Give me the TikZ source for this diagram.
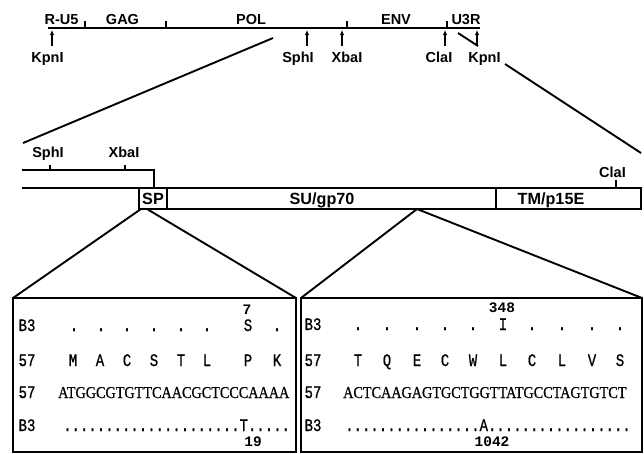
\documentclass[tikz,border=0pt]{standalone}
\usepackage{fontspec}
\setmainfont{Liberation Serif}
\setsansfont{Liberation Sans}
\setmonofont{Liberation Mono}
\newfontfamily\seqfont[FakeBold=0.6]{Liberation Serif}
\newfontfamily\resfont[FakeBold=0.9]{Liberation Mono}
\usetikzlibrary{arrows.meta}

% vertically stretched text for the alignment rows
\newcommand{\tallmono}[1]{\scalebox{1}[1.25]{#1}}
\newcommand{\tallseq}[1]{\scalebox{1}[1.17]{#1}}

\begin{document}
\begin{tikzpicture}[x=1pt,y=-1pt,
  lbl/.style={font=\sffamily\bfseries\fontsize{14.5}{14.5}\selectfont, inner sep=0pt, anchor=base},
  boxlbl/.style={font=\sffamily\bfseries\fontsize{16.2}{16.2}\selectfont, inner sep=0pt, anchor=base},
  seq/.style={font=\seqfont\fontsize{14.2}{14.2}\selectfont, inner sep=0pt, anchor=base west},
  mono/.style={font=\resfont\fontsize{14}{14}\selectfont, inner sep=0pt, anchor=base},
  monow/.style={font=\resfont\fontsize{14}{14}\selectfont, inner sep=0pt, anchor=base west},
  num/.style={font=\ttfamily\bfseries\fontsize{14.5}{14.5}\selectfont, inner sep=0pt, anchor=base},
  mapline/.style={line width=1.7pt},
  thinline/.style={line width=1.2pt},
  zoomline/.style={line width=1.9pt},
  site/.style={line width=1.2pt, -{Latex[length=5pt,width=4.5pt]}},
]
\useasboundingbox (0,0) rectangle (644,453);

% ---------- provirus map ----------
\coordinate (g0) at (48,28);
\coordinate (g1) at (480,28);
\draw[mapline] (g0) -- (g1);
\foreach \x [count=\i] in {85,166,347,447}
  \draw[thinline] (\x,28) -- (\x,21) coordinate (tk\i);

\node[lbl] (ru5) at (61.5,24) {R-U5};
\node[lbl] (gag) at (122.5,24) {GAG};
\node[lbl] (pol) at (251,24) {POL};
\node[lbl] (env) at (396,24) {ENV};
\node[lbl] (u3r) at (466,24) {U3R};

% restriction sites
\foreach \x/\nm in {52/kpnA,307/sphA,342/xbaA,445/claA,477/kpnB}{
  \coordinate (\nm-b) at (\x,46);
  \coordinate (\nm-t) at (\x,30);
  \draw[site] (\nm-b) -- (\nm-t);
}
\node[lbl] (kpn1) at (47.5,62) {KpnI};
\node[lbl] (sph1) at (298,62) {SphI};
\node[lbl] (xba1) at (347,62) {XbaI};
\node[lbl] (cla1) at (439,62) {ClaI};
\node[lbl] (kpn2) at (484.5,62) {KpnI};

% expansion lines to the env region
\coordinate (zl0) at (273,38);
\coordinate (zl1) at (23,143);
\draw[zoomline] (zl0) -- (zl1);
\coordinate (zr0) at (458,33);
\coordinate (zr1) at (478,46);
\coordinate (zr2) at (505,64);
\coordinate (zr3) at (641,153);
\draw[zoomline] (zr0) -- (zr1);
\draw[zoomline] (zr2) -- (zr3);

% ---------- env region ----------
\coordinate (e0) at (22,170);
\coordinate (e1) at (154,170);
\coordinate (e2) at (154,188);
\draw[mapline] (e0) -- (e1) -- (e2);
\foreach \x in {50,125} \draw[thinline] (\x,170) -- (\x,165);
\node[lbl] (sph2) at (48,157) {SphI};
\node[lbl] (xba2) at (124,157) {XbaI};

\coordinate (f0) at (22,188);
\coordinate (f1) at (139,188);
\draw[mapline] (f0) -- (f1);

\draw[thinline] (139,188) rectangle (641,209);
\draw[thinline] (167,188) -- (167,209);
\draw[thinline] (496,188) -- (496,209);
\node[boxlbl] (sp) at (153,204) {SP};
\node[boxlbl] (su) at (322,204) {SU/gp70};
\node[boxlbl] (tm) at (551,204) {TM/p15E};

\draw[thinline] (616,188) -- (616,180);
\node[lbl] (cla2) at (612.5,177) {ClaI};

% ---------- zoom to sequences ----------
\coordinate (spA) at (141,209);
\coordinate (spB) at (147,209);
\coordinate (suA) at (417,209);
\coordinate (bl0) at (13,298);
\coordinate (bl1) at (296,298);
\coordinate (br0) at (301,298);
\coordinate (br1) at (642,298);
\draw[zoomline] (spA) -- (bl0);
\draw[zoomline] (spB) -- (bl1);
\draw[zoomline] (suA) -- (br0);
\draw[zoomline] (suA) -- (br1);

\draw[thinline] (bl0) rectangle (296,452);
\draw[thinline] (br0) rectangle (642,452);

% left panel: signal peptide
\node[num] (n7) at (247,314) {7};
\node[mono] (lb3a) at (27,331) {\tallmono{B3}};
\foreach \x/\c [count=\i] in {74/.,101/.,127/.,154/.,181/.,207/.,248/S,277/.}
  \node[mono] (la\i) at (\x,331) {\tallmono{\c}};
\node[mono] (l57a) at (27,366) {\tallmono{57}};
\foreach \x/\c [count=\i] in {73/M,100/A,127/C,154/S,181/T,207/L,248/P,277/K}
  \node[mono] (lp\i) at (\x,366) {\tallmono{\c}};
\node[mono] (l57b) at (27,398) {\tallmono{57}};
\node[seq] (lseq) at (58,398) {\tallseq{ATGGCGTGTTCAACGCTCCCAAAA}};
\node[mono] (lb3b) at (27,431) {\tallmono{B3}};
\node[monow] (ldots) at (63,431) {\tallmono{.....................T.....}};
\node[num] (n19) at (253,446) {19};

% right panel: SU region
\node[num] (n348) at (502,312) {348};
\node[mono] (rb3a) at (313,330) {\tallmono{B3}};
\foreach \x/\c [count=\i] in {358/.,387/.,417/.,445/.,473/.,503/I,532/.,562/.,592/.,620/.}
  \node[mono] (ra\i) at (\x,330) {\tallmono{\c}};
\node[mono] (r57a) at (313,366) {\tallmono{57}};
\foreach \x/\c [count=\i] in {358/T,387/Q,417/E,445/C,473/W,503/L,532/C,562/L,592/V,620/S}
  \node[mono] (rp\i) at (\x,366) {\tallmono{\c}};
\node[mono] (r57b) at (313,398) {\tallmono{57}};
\node[seq] (rseq) at (343,398) {\tallseq{ACTCAAGAGTGCTGGTTATGCCTAGTGTCT}};
\node[mono] (rb3b) at (313,431) {\tallmono{B3}};
\node[monow] (rdots) at (345,431) {\tallmono{................A.................}};
\node[num] (n1042) at (492,446) {1042};
\end{tikzpicture}
\end{document}
